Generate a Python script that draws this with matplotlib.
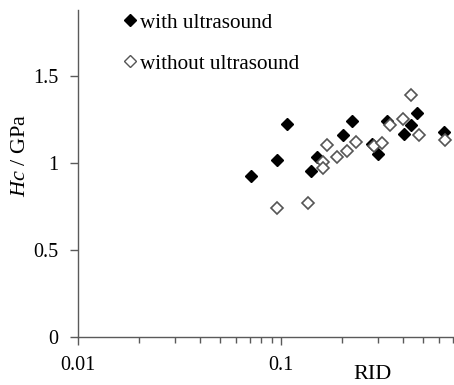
import matplotlib
matplotlib.use("Agg")
import matplotlib.pyplot as plt
from matplotlib.lines import Line2D

# Data
rid_with = [0.0709, 0.0959, 0.1067, 0.141, 0.150, 0.201, 0.223, 0.281, 0.300,
            0.333, 0.403, 0.438, 0.468, 0.634]
hc_with = [0.925, 1.017, 1.224, 0.956, 1.036, 1.159, 1.244, 1.109, 1.052,
           1.244, 1.167, 1.221, 1.286, 1.178]

rid_without = [0.0959, 0.135, 0.160, 0.160, 0.169, 0.189, 0.210, 0.234, 0.287,
               0.314, 0.344, 0.400, 0.434, 0.479, 0.638]
hc_without = [0.740, 0.771, 1.006, 0.972, 1.102, 1.033, 1.067, 1.121, 1.100,
              1.113, 1.217, 1.251, 1.390, 1.163, 1.132]

y_ticks = [0, 0.5, 1, 1.5]
y_ticklabels = ["0", "0.5", "1", "1.5"]
x_ticks = [0.01, 0.1]
x_ticklabels = ["0.01", "0.1"]

plt.rcParams["font.family"] = ["Liberation Serif", "DejaVu Serif"]
plt.rcParams["mathtext.fontset"] = "custom"
plt.rcParams["mathtext.it"] = "Liberation Serif:italic"
plt.rcParams["mathtext.rm"] = "Liberation Serif"

W, H = 454, 385
fig = plt.figure(figsize=(W / 100, H / 100), dpi=100)
# axes box in pixel terms: left 78, bottom 337 (from top), top 10, right 454
ax = fig.add_axes([78 / W, (H - 337) / H, (454 - 78) / W, (337 - 10) / H])

axis_col = "#5a5a5a"

ax.plot(rid_with, hc_with, linestyle="none", marker="D", markersize=6.5,
        markerfacecolor="black", markeredgecolor="black", zorder=3)
ax.plot(rid_without, hc_without, linestyle="none", marker="D", markersize=6.5,
        markerfacecolor="white", markeredgecolor="#555555", markeredgewidth=1.2,
        zorder=4)

ax.set_xscale("log")
ax.set_xlim(0.01, 0.71)
ax.set_ylim(0, 1.88)

ax.set_xticks(x_ticks)
ax.set_xticklabels(x_ticklabels)
ax.set_yticks(y_ticks)
ax.set_yticklabels(y_ticklabels)

for side in ["top", "right"]:
    ax.spines[side].set_visible(False)
for side in ["left", "bottom"]:
    ax.spines[side].set_color(axis_col)
    ax.spines[side].set_linewidth(1.0)

ax.tick_params(axis="both", which="major", direction="out", length=6,
               width=1.0, color=axis_col, labelsize=14.5, pad=8)
ax.tick_params(axis="x", which="minor", direction="out", length=4,
               width=1.0, color=axis_col)
ax.tick_params(axis="y", which="minor", left=False)

ax.set_ylabel("$Hc$ / GPa", fontsize=16, va="center", ha="center")
ax.yaxis.set_label_coords(-0.154, 0.557)
ax.set_xlabel("RID", fontsize=16, va="baseline", ha="center")
ax.xaxis.set_label_coords(0.782, -0.128)

handles = [
    Line2D([], [], linestyle="none", marker="D", markersize=6,
           markerfacecolor="black", markeredgecolor="black"),
    Line2D([], [], linestyle="none", marker="D", markersize=6,
           markerfacecolor="white", markeredgecolor="#555555",
           markeredgewidth=1.0),
]
ax.legend(handles, ["with ultrasound", "without ultrasound"],
          loc="upper left", bbox_to_anchor=(124 / W, 1 - 13 / H),
          bbox_transform=fig.transFigure, frameon=False, fontsize=15.2,
          handlelength=0.6, handletextpad=0.15, labelspacing=1.0,
          borderaxespad=0, borderpad=0)

plt.savefig("out.png", dpi=100)
